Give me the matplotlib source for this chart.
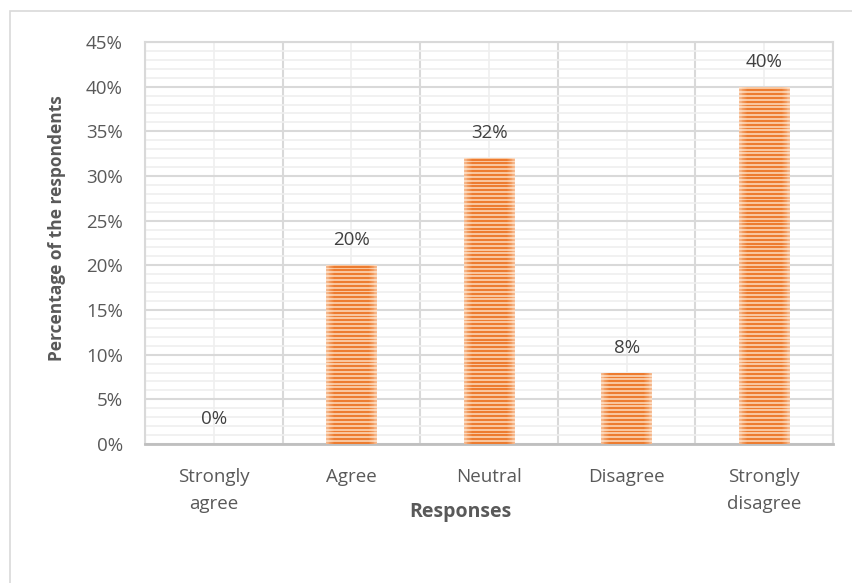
import numpy as np
import matplotlib.pyplot as plt
from matplotlib.patches import Rectangle
from matplotlib.ticker import MultipleLocator, FuncFormatter

categories = ['Strongly\nagree', 'Agree', 'Neutral', 'Disagree', 'Strongly\ndisagree']
values = [0, 20, 32, 8, 40]
yticks = [0, 5, 10, 15, 20, 25, 30, 35, 40, 45]

plt.rcParams['font.family'] = ['Open Sans', 'DejaVu Sans']
txt = '#595959'
fs = 13.5

fig = plt.figure(figsize=(8.53, 5.83), dpi=100)
ax = fig.add_axes([145/853, 1-444/583, (833-145)/853, (444-42)/583])

# outer chart border
fig.patches.append(Rectangle((10/853, -0.05), 1.0, 1-11/583+0.05, transform=fig.transFigure,
                             fill=False, edgecolor='#D9D9D9', linewidth=1.2))

x = np.arange(len(categories))
bars = ax.bar(x, values, width=0.37, color='#ED7D31', linewidth=0, zorder=3)

# striped fill with lighter edges for every bar
rows = 420
stripe = (np.arange(rows) // 2) % 2  # horizontal stripes
cols = 60
u = np.linspace(-1, 1, cols)
edge = np.clip((np.abs(u) - 0.7) / 0.3, 0, 1)  # 0 in middle, 1 at edges
dark = np.array([0.93, 0.49, 0.19])
light = np.array([0.98, 0.78, 0.62])
white = np.array([1.0, 0.93, 0.87])
img = np.zeros((rows, cols, 3))
for i in range(rows):
    base = dark if stripe[i] == 0 else light
    img[i] = base[None, :] * (1 - edge[:, None] * 0.55) + white[None, :] * (edge[:, None] * 0.55)
for b in bars:
    if b.get_height() <= 0:
        continue
    x0 = b.get_x()
    im = ax.imshow(img, extent=(x0, x0 + b.get_width(), 0, 45), aspect='auto',
                   interpolation='nearest', zorder=3, origin='lower')
    im.set_clip_path(b)

for xi, v in zip(x, values):
    ax.annotate(f'{v}%', (xi, v), xytext=(0, 18), textcoords='offset points',
                ha='center', va='center', fontsize=fs, color='#404040')

ax.set_xlim(-0.5, len(categories) - 0.5)
ax.set_ylim(0, 45)
ax.set_yticks(yticks)
ax.yaxis.set_major_formatter(FuncFormatter(lambda v, p: f'{v:.0f}%'))
ax.yaxis.set_minor_locator(MultipleLocator(1))
ax.set_xticks(x)
ax.set_xticklabels(categories, fontsize=fs, color=txt, linespacing=1.65)
ax.set_xticks(np.arange(-0.5, len(categories)), minor=True)
ax.tick_params(axis='y', labelsize=fs, labelcolor=txt, length=0, pad=16)
ax.tick_params(axis='x', length=0, pad=17)
ax.tick_params(which='minor', length=0)

# gridlines: major / minor in both directions
ax.grid(True, axis='y', which='major', color='#D9D9D9', linewidth=1.5, zorder=0)
ax.grid(True, axis='y', which='minor', color='#EFEFEF', linewidth=1.2, zorder=0)
ax.grid(True, axis='x', which='minor', color='#D9D9D9', linewidth=1.5, zorder=0)
ax.grid(True, axis='x', which='major', color='#EFEFEF', linewidth=1.2, zorder=0)
ax.set_axisbelow(True)

for s in ['top', 'right', 'left']:
    ax.spines[s].set_color('#D9D9D9')
    ax.spines[s].set_linewidth(1.5)
ax.spines['bottom'].set_color('#BFBFBF')
ax.spines['bottom'].set_linewidth(2)

fig.text(57/853, 1-228/583, 'Percentage of the respondents', rotation=90, ha='center',
         va='center', fontsize=12.5, fontweight='bold', color=txt)
fig.text(460/853, 1-512/583, 'Responses', ha='center', va='center',
         fontsize=14, fontweight='bold', color=txt)

fig.savefig('out.png', dpi=100)
